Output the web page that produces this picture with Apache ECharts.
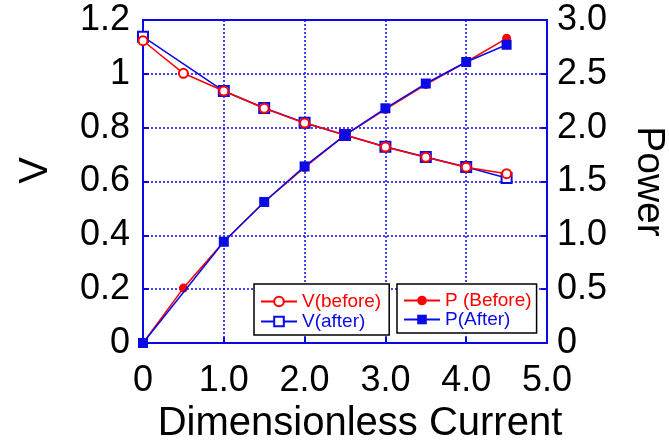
<!DOCTYPE html>
<html>
<head>
<meta charset="utf-8">
<script src="https://cdn.jsdelivr.net/npm/echarts@6/dist/echarts.min.js"></script>
<style>html,body{margin:0;padding:0;background:#fff}#c{width:669px;height:441px}</style>
</head>
<body>
<div id="c"></div>
<script>
var currents = [0, 0.5, 1.0, 1.5, 2.0, 2.5, 3.0, 3.5, 4.0, 4.5];
var vBefore  = [1.123, 1.002, 0.936, 0.872, 0.817, 0.773, 0.728, 0.690, 0.653, 0.629];
var vAfter   = [1.138, null, 0.936, 0.873, 0.818, 0.773, 0.729, 0.691, 0.654, 0.613];
var pBefore  = [0, 0.51, 0.94, 1.31, 1.63, 1.93, 2.17, 2.40, 2.61, 2.83];
var pAfter   = [0, null, 0.94, 1.31, 1.64, 1.93, 2.18, 2.41, 2.61, 2.77];

function pairs(ys){
  var out = [];
  for (var i = 0; i < currents.length; i++) if (ys[i] !== null) out.push([currents[i], ys[i]]);
  return out;
}
var RED = '#ff0000', BLUE = '#0a0ae6';
var FONT = 'Liberation Sans, Arial, sans-serif';

var chart = echarts.init(document.getElementById('c'));
function axisCommon(){
  return {
    axisLine: {show: true, lineStyle: {color: BLUE, width: 2}},
    axisTick: {show: true, inside: true, length: 6, lineStyle: {color: BLUE, width: 2}},
    splitLine: {show: true, lineStyle: {color: BLUE, width: 1.5, type: [2, 2]}}
  };
}
chart.setOption({
  animation: false,
  backgroundColor: '#fff',
  grid: {left: 143, right: 122, top: 20, bottom: 98, show: true, borderColor: BLUE, borderWidth: 2,
         backgroundColor: 'transparent', containLabel: false, outerBoundsMode: 'none'},
  xAxis: Object.assign(axisCommon(), {
    type: 'value', min: 0, max: 5, interval: 1,
    name: 'Dimensionless Current', nameLocation: 'middle', nameGap: 57,
    nameTextStyle: {fontFamily: FONT, fontSize: 40, color: '#000', padding: [0, 0, 0, 30]},
    axisLabel: {fontFamily: FONT, fontSize: 36, color: '#000', margin: 20,
      formatter: function(v){ return v === 0 ? '0' : v.toFixed(1); }}
  }),
  yAxis: [
    Object.assign(axisCommon(), {
      type: 'value', min: 0, max: 1.2, interval: 0.2, position: 'left',
      name: 'V', nameLocation: 'middle', nameGap: 87, nameRotate: 90,
      nameTextStyle: {fontFamily: FONT, fontSize: 40, color: '#000', padding: [0, 0, 0, 22]},
      axisLabel: {fontFamily: FONT, fontSize: 36, color: '#000', margin: 13,
        formatter: function(v){ return String(+v.toFixed(1)); }}
    }),
    Object.assign(axisCommon(), {
      type: 'value', min: 0, max: 3, interval: 0.5, position: 'right',
      name: 'Power', nameLocation: 'middle', nameGap: 82, nameRotate: -90,
      nameTextStyle: {fontFamily: FONT, fontSize: 39, color: '#000'},
      splitLine: {show: false},
      axisLabel: {fontFamily: FONT, fontSize: 36, color: '#000', margin: 10,
        formatter: function(v){ return v === 0 ? '0' : v.toFixed(1); }}
    })
  ],
  legend: [
    {orient: 'vertical', left: 254, top: 284, width: 120,
     backgroundColor: '#fff', borderColor: '#000', borderWidth: 1.5, borderRadius: 0,
     padding: [8, 8, 4, 6], itemGap: 1, itemWidth: 36, itemHeight: 12,
     textStyle: {fontFamily: FONT, fontSize: 19},
     data: [{name: 'V(before)', textStyle: {color: RED}}, {name: 'V(after)', textStyle: {color: BLUE}}]},
    {orient: 'vertical', left: 397, top: 284, width: 130,
     backgroundColor: '#fff', borderColor: '#000', borderWidth: 1.5, borderRadius: 0,
     padding: [7, 5, 4, 6], itemGap: 0, itemWidth: 36, itemHeight: 12,
     textStyle: {fontFamily: FONT, fontSize: 19},
     data: [{name: 'P (Before)', textStyle: {color: RED}}, {name: 'P(After)', textStyle: {color: BLUE}}]}
  ],
  series: [
    {name: 'V(before)', type: 'line', yAxisIndex: 0, data: pairs(vBefore), z: 3,
     symbol: 'emptyCircle', symbolSize: 9, color: RED,
     lineStyle: {color: RED, width: 1.5}, itemStyle: {color: RED, borderWidth: 1.5}},
    {name: 'P (Before)', type: 'line', yAxisIndex: 1, data: pairs(pBefore), z: 3,
     symbol: 'circle', symbolSize: 9, color: RED,
     lineStyle: {color: RED, width: 1.5}, itemStyle: {color: RED}},
    {name: 'V(after)', type: 'line', yAxisIndex: 0, data: pairs(vAfter), z: 2,
     symbol: 'emptyRect', symbolSize: 10, color: BLUE,
     lineStyle: {color: BLUE, width: 1.5}, itemStyle: {color: BLUE, borderWidth: 1.5}},
    {name: 'P(After)', type: 'line', yAxisIndex: 1, data: pairs(pAfter), z: 4,
     symbol: 'rect', symbolSize: 10, color: BLUE,
     lineStyle: {color: BLUE, width: 1.5}, itemStyle: {color: BLUE}}
  ]
});
</script>
</body>
</html>
